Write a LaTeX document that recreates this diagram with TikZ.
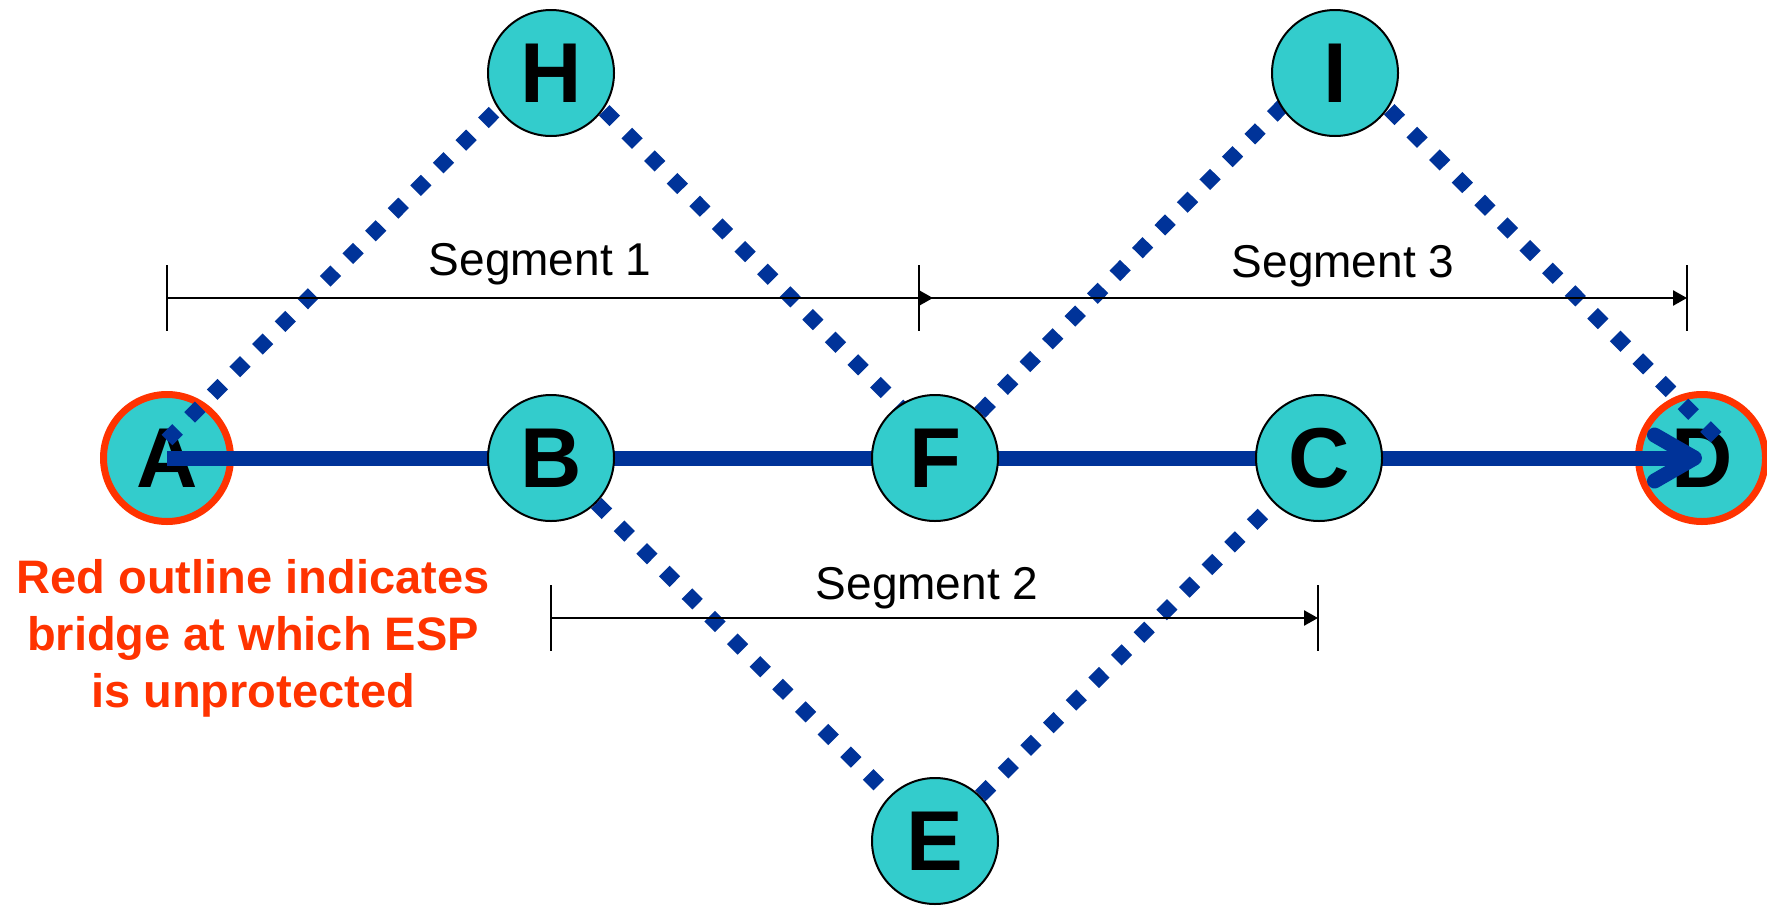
\documentclass[tikz,border=0pt]{standalone}
\usepackage{fontspec}
\setmainfont{Liberation Sans}
\usetikzlibrary{arrows.meta}
\definecolor{tealfill}{HTML}{33CCCC}
\definecolor{pathblue}{HTML}{003399}
\definecolor{alertred}{HTML}{FF3300}
\pgfdeclarelayer{bottom}
\pgfdeclarelayer{lines}
\pgfsetlayers{bottom,lines,main}
\begin{document}
\begin{tikzpicture}[x=1pt,y=-1pt,
  bridge/.style={circle, draw=black, line width=2pt, fill=tealfill, minimum size=126pt, inner sep=0pt,
    font=\fontsize{85}{85}\selectfont\bfseries},
  redbridge/.style={bridge, draw=alertred, line width=7pt, minimum size=127pt},
  mainpath/.style={draw=pathblue, line width=15pt, -{Straight Barb[length=40pt,width=46pt,round]}},
  dots/.style={draw=pathblue, line width=15pt, dash pattern=on 15pt off 17pt},
  segline/.style={draw=black, line width=2.5pt},
  segarrow/.style={segline, -{Triangle[length=14pt,width=15pt]}},
  seglabel/.style={inner sep=0pt, font=\fontsize{46}{46}\selectfont},
  note/.style={inner sep=0pt, align=center, text=alertred, font=\fontsize{47}{57}\selectfont\bfseries}]
\useasboundingbox (0,0) rectangle (1767,905);

\begin{pgfonlayer}{bottom}
  \node[redbridge] (A) at (167,458) {A};
  \node[redbridge] (D) at (1702,458) {D};
\end{pgfonlayer}
\node[bridge] (B) at (551,458) {B};
\node[bridge] (F) at (935,458) {F};
\node[bridge] (C) at (1319,458) {C};
\node[bridge] (H) at (551,73) {H};
\node[bridge] (I) at (1335,73) {I};
\node[bridge] (E) at (935,841) {E};

\begin{pgfonlayer}{lines}
  \draw[dots] ([shift={(0,-18)}]A.center) -- ([shift={(-9,-9)}]H.center);
  \draw[dots] ([shift={(8,-8)}]H.center) -- ([shift={(8,-8)}]F.center);
  \draw[dots] (F.center) -- ([shift={(-10,-10)}]I.center);
  \draw[dots] ([shift={(9,-9)}]I.center) -- ([shift={(17,-18)}]D.center);
  \draw[dots] (B.center) -- (E.center);
  \draw[dots] (E.center) -- (C.center);
  \draw[mainpath] (A.center) -- (D.center);
\end{pgfonlayer}

% segment markers
\draw[segline] (167,265) -- (167,331);
\draw[segarrow] (167,298) -- (933,298);
\draw[segline] (919,265) -- (919,331);
\draw[segarrow] (919,298) -- (1687,298);
\draw[segline] (1687,265) -- (1687,331);
\draw[segline] (551,585) -- (551,651);
\draw[segarrow] (551,618) -- (1318,618);
\draw[segline] (1318,585) -- (1318,651);

\node[seglabel, anchor=base] (s1) at (540,275) {Segment 1};
\node[seglabel, anchor=base] (s3) at (1343,277) {Segment 3};
\node[seglabel, anchor=base] (s2) at (927,599) {Segment 2};

\node[note, anchor=base] (nt) at (253,707) {Red outline indicates\\bridge at which ESP\\is unprotected};
\end{tikzpicture}
\end{document}
